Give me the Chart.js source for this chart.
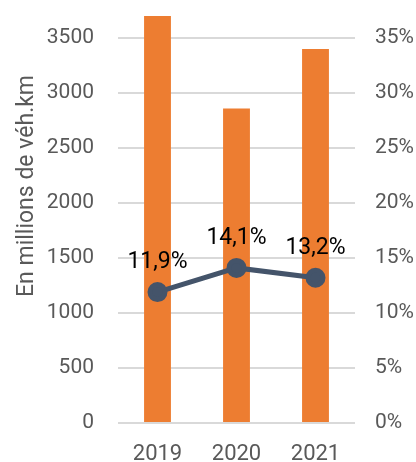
<!DOCTYPE html>
<html>
<head>
<meta charset="utf-8">
<script src="https://cdn.jsdelivr.net/npm/chart.js@4"></script>
<style>
    html, body { margin: 0; padding: 0; background: #fff; overflow: hidden; }
    body { width: 416px; height: 462px; position: relative; }
    /* the plot is taller than the window: its top (4000 / 40%) is cropped off like in the original */
    #wrap { position: absolute; left: 0; top: -53px; width: 416px; height: 515px; }
</style>
</head>
<body>
<div id="wrap"><canvas id="chart"></canvas></div>
<script>
const YEARS = ['2019', '2020', '2021'];
const VEH_KM = [3700, 2860, 3400];      // millions de véh.km
const SHARE = [11.9, 14.1, 13.2];        // %
const LEFT_MAX = 4000;
const LEFT_STEP = 500;
const RIGHT_MAX = 40;
const RIGHT_STEP = 5;
const Y_TITLE = 'En millions de véh.km';

const GREY = '#595959';
const FONT = 'Roboto';

const formatPct = (v) => v.toFixed(1).replace('.', ',') + '%';

// labels above the line points
const pointLabels = {
    id: 'pointLabels',
    afterDatasetsDraw(chart) {
        const ctx = chart.ctx;
        const meta = chart.getDatasetMeta(1);
        ctx.save();
        ctx.font = `23px ${FONT}`;
        ctx.fillStyle = '#000';
        ctx.textAlign = 'center';
        ctx.textBaseline = 'alphabetic';
        meta.data.forEach((pt, i) => {
            ctx.fillText(formatPct(SHARE[i]), pt.x, pt.y - 24);
        });
        ctx.restore();
    }
};

// y axis title, placed like in the original (not centred on the cropped plot)
const yTitle = {
    id: 'yTitle',
    afterDraw(chart) {
        const ctx = chart.ctx;
        ctx.save();
        ctx.translate(27, 239);
        ctx.rotate(-Math.PI / 2);
        ctx.font = `23px ${FONT}`;
        ctx.fillStyle = GREY;
        ctx.textAlign = 'center';
        ctx.textBaseline = 'middle';
        ctx.fillText(Y_TITLE, 0, 0);
        ctx.restore();
    }
};

new Chart(document.getElementById('chart'), {
    type: 'bar',
    data: {
        labels: YEARS,
        datasets: [
            {
                type: 'bar',
                data: VEH_KM,
                backgroundColor: '#ED7D31',
                barPercentage: 0.34,
                categoryPercentage: 1,
                yAxisID: 'y',
                order: 1,
            },
            {
                type: 'line',
                data: SHARE,
                borderColor: '#44546A',
                backgroundColor: '#44546A',
                borderWidth: 5,
                pointRadius: 7.5,
                pointHoverRadius: 7.5,
                yAxisID: 'y2',
                order: 0,
            }
        ]
    },
    options: {
        responsive: true,
        maintainAspectRatio: false,
        animation: false,
        layout: { padding: 0 },
        plugins: {
            legend: { display: false },
            tooltip: { enabled: false },
        },
        scales: {
            x: {
                grid: { display: false },
                border: { display: false },
                ticks: { color: GREY, font: { family: FONT, size: 22 }, padding: 10 },
                afterFit: (s) => { s.height = 39; },
            },
            y: {
                position: 'left',
                min: 0,
                max: LEFT_MAX,
                ticks: {
                    stepSize: LEFT_STEP,
                    color: GREY,
                    font: { family: FONT, size: 21, lineHeight: '24px' },
                    padding: 24,
                    callback: (v) => String(v),
                },
                grid: { color: '#D9D9D9', lineWidth: 2, drawTicks: false },
                border: { display: false },
                afterFit: (s) => { s.width = 118; },
            },
            y2: {
                position: 'right',
                min: 0,
                max: RIGHT_MAX,
                ticks: {
                    stepSize: RIGHT_STEP,
                    color: GREY,
                    font: { family: FONT, size: 21, lineHeight: '24px' },
                    padding: 20,
                    callback: (v) => v + '%',
                },
                grid: { display: false, drawTicks: false },
                border: { display: false },
                afterFit: (s) => { s.width = 61; },
            }
        }
    },
    plugins: [pointLabels, yTitle]
});
</script>
</body>
</html>
